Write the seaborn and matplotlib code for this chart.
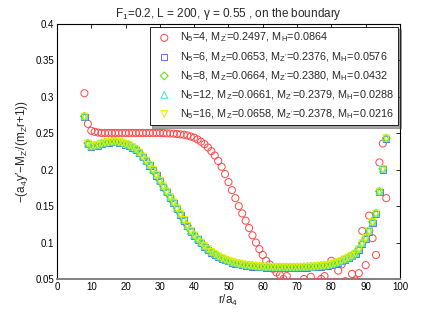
import numpy as np
import pandas as pd
import matplotlib
matplotlib.use("Agg")
import matplotlib.pyplot as plt
import seaborn as sns

# radial positions r/a4 (8 ... 96)
r = np.arange(8, 97)

# N5=4 (red circles), one value per r
v_n4 = [0.305, 0.263, 0.2535, 0.252, 0.251, 0.2505, 0.2505, 0.2505, 0.2505, 0.2505,   # 8-17
        0.2505, 0.2505, 0.2505, 0.2505, 0.2505, 0.2505, 0.2505, 0.2505, 0.2505, 0.2505,  # 18-27
        0.2505, 0.2505, 0.2505, 0.2503, 0.2500, 0.2498, 0.2495, 0.249, 0.2485, 0.248,  # 28-37
        0.247, 0.2455, 0.244, 0.2415, 0.2385, 0.235, 0.2305, 0.2255, 0.2195, 0.212,    # 38-47
        0.204, 0.194, 0.183, 0.172, 0.161, 0.150, 0.140, 0.130, 0.120, 0.110,          # 48-57
        0.100, 0.091, 0.083, 0.075, 0.070, 0.064, 0.059, 0.0555, 0.050, 0.054,         # 58-67
        0.045, 0.040, 0.045, 0.042, 0.050, 0.045, 0.053, 0.043, 0.046, 0.050,          # 68-77
        0.054, 0.045, 0.075, 0.046, 0.0615, 0.070, 0.047, 0.044, 0.057, 0.048,         # 78-87
        0.058, 0.116, 0.069, 0.137, 0.106, 0.083, 0.210, 0.236, 0.161]                 # 88-96

# common shape for N5 = 6, 8, 12, 16
v_base = [0.273, 0.236, 0.232, 0.233, 0.234, 0.236, 0.237, 0.238, 0.2385, 0.2385,     # 8-17
          0.238, 0.237, 0.2355, 0.2335, 0.231, 0.228, 0.2235, 0.218, 0.2125, 0.2065,   # 18-27
          0.200, 0.193, 0.185, 0.177, 0.170, 0.1625, 0.155, 0.147, 0.139, 0.131,       # 28-37
          0.123, 0.116, 0.110, 0.105, 0.100, 0.095, 0.091, 0.087, 0.084, 0.081,        # 38-47
          0.0785, 0.0765, 0.075, 0.0735, 0.072, 0.071, 0.070, 0.069, 0.0685, 0.068,    # 48-57
          0.0675, 0.067, 0.067, 0.0665, 0.0665, 0.066, 0.066, 0.066, 0.066, 0.066,     # 58-67
          0.066, 0.066, 0.066, 0.0662, 0.0664, 0.0666, 0.0668, 0.067, 0.0675, 0.068,   # 68-77
          0.0685, 0.069, 0.070, 0.0715, 0.073, 0.075, 0.077, 0.0795, 0.082, 0.085,     # 78-87
          0.091, 0.099, 0.106, 0.116, 0.128, 0.140, 0.170, 0.201, 0.243]              # 88-96
v_n6 = [v - 0.0008 for v in v_base]
v_n8 = [v + 0.0004 for v in v_base]
v_n12 = [v + 0.0002 for v in v_base]
v_n16 = [v + 0.0001 for v in v_base]

labels = [
    "N$_5$=4, M$_{Z'}$=0.2497, M$_H$=0.0864",
    "N$_5$=6, M$_Z$=0.0653, M$_{Z'}$=0.2376, M$_H$=0.0576",
    "N$_5$=8, M$_Z$=0.0664, M$_{Z'}$=0.2380, M$_H$=0.0432",
    "N$_5$=12, M$_Z$=0.0661, M$_{Z'}$=0.2379, M$_H$=0.0288",
    "N$_5$=16, M$_Z$=0.0658, M$_{Z'}$=0.2378, M$_H$=0.0216",
]

sns.set_style("white")
plt.rcParams['font.family'] = ['Liberation Sans', 'DejaVu Sans']
plt.rcParams['mathtext.default'] = 'regular'

fig = plt.figure(figsize=(4.36, 3.15), dpi=100)
ax = fig.add_axes([0.1307, 0.1143, 0.7867, 0.8095])

series = [
    (v_n4, 'o', '#ff4545', 26),
    (v_n6, 's', '#5570ff', 20),
    (v_n8, 'D', '#55dd00', 16),
    (v_n12, '^', '#40e6c8', 24),
    (v_n16, 'v', '#e6f000', 24),
]
for (ys, m, c, s), lab in zip(series, labels):
    df = pd.DataFrame({'r': r, 'v': ys})
    sns.scatterplot(data=df, x='r', y='v', marker=m, s=s, facecolor='none',
                    edgecolor=c, linewidth=0.7, label=lab, ax=ax, zorder=3)

ax.set_xlim(0, 100)
ax.set_ylim(0.05, 0.4)
ax.set_xticks(np.arange(0, 101, 10))
yt = [0.05, 0.1, 0.15, 0.2, 0.25, 0.3, 0.35, 0.4]
ax.set_yticks(yt)
ax.set_yticklabels(['%g' % t for t in yt])
ax.tick_params(direction='in', length=3, width=0.6, labelsize=7, top=True, right=True,
               colors='black', pad=2)
for sp in ax.spines.values():
    sp.set_color('black')
    sp.set_linewidth(0.8)
ax.spines['bottom'].set_color('#808080')
ax.spines['bottom'].set_linewidth(1.4)

ax.set_title("F$_1$=0.2, L = 200, \u03b3 = 0.55 , on the boundary", fontsize=8.5, pad=5)
ax.set_xlabel("r/a$_4$", fontsize=8.5, labelpad=1)
ax.set_ylabel("\u2212(a$_4$y\u2032\u2212M$_{Z'}$/(m$_Z$r+1))", fontsize=8.5, labelpad=4)

leg = ax.legend(loc='upper right', bbox_to_anchor=(0.995, 0.99), borderaxespad=0,
                fontsize=7.8, frameon=True, fancybox=False, shadow=True,
                labelspacing=0.5, handletextpad=0.5, borderpad=0.4,
                handlelength=1.9, markerscale=1.0)
leg.get_frame().set_edgecolor('black')
leg.get_frame().set_linewidth(0.6)
leg.get_frame().set_facecolor('white')
leg.get_frame().set_alpha(1)

fig.savefig('out.png', dpi=100, facecolor='white')
